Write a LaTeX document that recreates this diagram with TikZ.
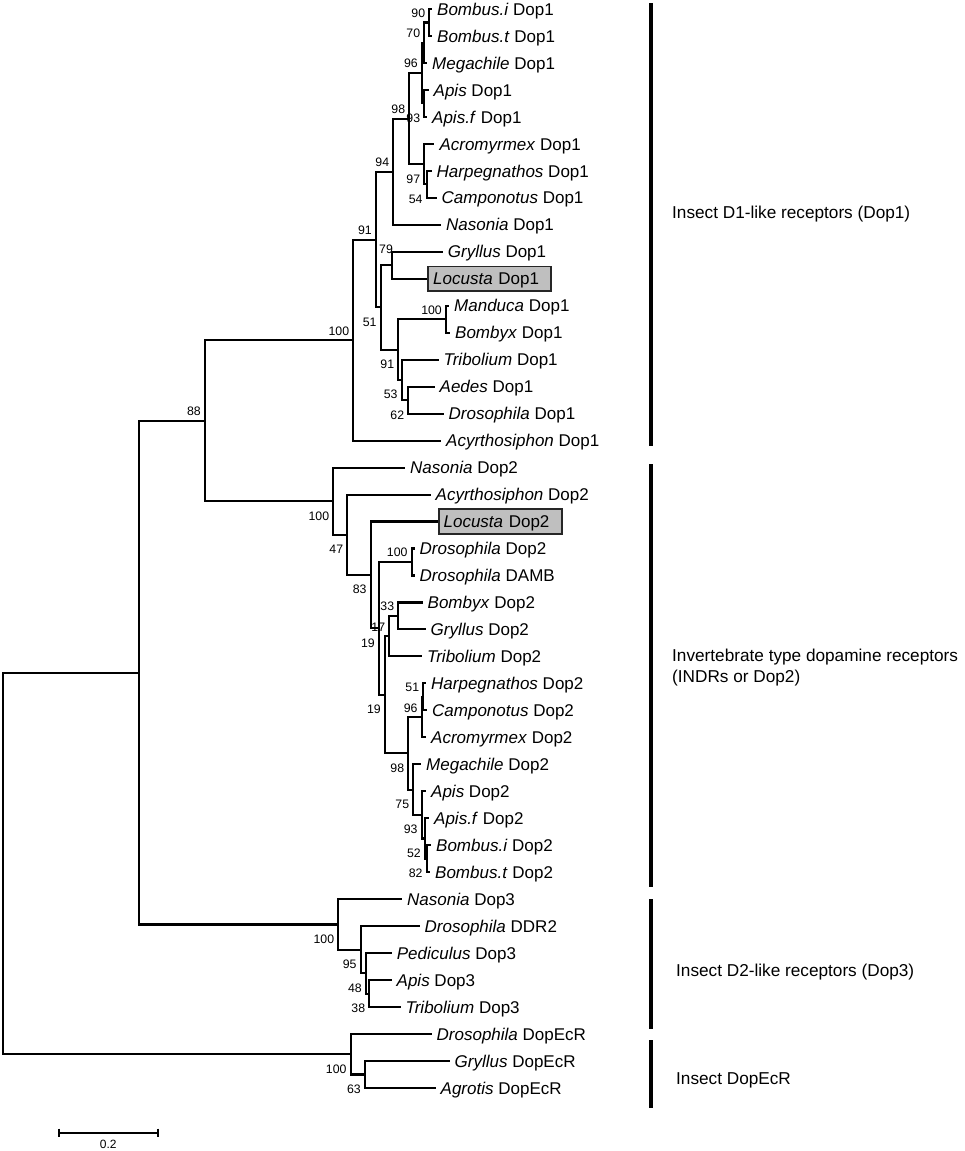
\documentclass[tikz,border=0pt]{standalone}
\usepackage{fontspec}
\setmainfont{Liberation Sans}
\newcommand{\mkleaf}[4]{\coordinate (#1) at (#2,#3); \node[lab,anchor=west] (#1t) at ([xshift=6pt]#1) {#4};}
\newcommand{\mkbox}[4]{\coordinate (#1) at (#2,#3); \node[lbox,anchor=west] (#1t) at (#1) {#4};}
\newcommand{\bsup}[3]{\node[bs,anchor=east] (#1) at ([shift={(-4pt,9.5pt)}]#2) {#3};}
\newcommand{\bsdn}[3]{\node[bs,anchor=east] (#1) at ([shift={(-4pt,-14.5pt)}]#2) {#3};}
\newcommand{\brn}[2]{\draw[br] (#1) |- (#2);}
\begin{document}
\begin{tikzpicture}[x=1pt,y=-1pt,
  br/.style={draw=black, line width=2.1pt, line cap=rect},
  lab/.style={inner sep=0pt, text height=12.2pt, text depth=0pt, font=\fontsize{17}{20}\selectfont},
  bs/.style={inner sep=0pt, text height=8.8pt, text depth=0pt, font=\fontsize{12.3}{14}\selectfont},
  lbox/.style={draw=black!85, line width=1.8pt, fill=black!25, minimum height=24.5pt, text width=113pt, inner xsep=5pt, inner ysep=0pt, text height=12.2pt, text depth=0pt, font=\fontsize{17}{20}\selectfont, align=left},
  grp/.style={inner sep=0pt, text height=12.3pt, text depth=0pt, font=\fontsize{17.2}{21}\selectfont, anchor=west},
  bar/.style={draw=black, line width=4.5pt}]
\useasboundingbox (0,0) rectangle (964,1151);
% ---------------- leaves ----------------
\mkleaf{L0}{431}{9}{\textit{Bombus.i} Dop1}
\mkleaf{L1}{431}{36}{\textit{Bombus.t} Dop1}
\mkleaf{L2}{426}{62.9}{\textit{Megachile} Dop1}
\mkleaf{L3}{427.5}{89.9}{\textit{Apis} Dop1}
\mkleaf{L4}{426}{116.9}{\textit{Apis.f} Dop1}
\mkleaf{L5}{433.3}{143.9}{\textit{Acromyrmex} Dop1}
\mkleaf{L6}{430.5}{170.9}{\textit{Harpegnathos} Dop1}
\mkleaf{L7}{435.5}{197.8}{\textit{Camponotus} Dop1}
\mkleaf{L8}{440}{224.8}{\textit{Nasonia} Dop1}
\mkleaf{L9}{441.7}{251.8}{\textit{Gryllus} Dop1}
\mkbox{L10}{427.3}{278.8}{\textit{Locusta} Dop1}
\mkleaf{L11}{448}{305.7}{\textit{Manduca} Dop1}
\mkleaf{L12}{449}{332.7}{\textit{Bombyx} Dop1}
\mkleaf{L13}{437.5}{359.7}{\textit{Tribolium} Dop1}
\mkleaf{L14}{433.5}{386.7}{\textit{Aedes} Dop1}
\mkleaf{L15}{442.5}{413.6}{\textit{Drosophila} Dop1}
\mkleaf{L16}{440}{440.6}{\textit{Acyrthosiphon} Dop1}
\mkleaf{L17}{404}{467.6}{\textit{Nasonia} Dop2}
\mkleaf{L18}{429.5}{494.6}{\textit{Acyrthosiphon} Dop2}
\mkbox{L19}{437.7}{521.5}{\textit{Locusta} Dop2}
\mkleaf{L20}{413.5}{548.5}{\textit{Drosophila} Dop2}
\mkleaf{L21}{413.5}{575.5}{\textit{Drosophila} DAMB}
\mkleaf{L22}{421.5}{602.5}{\textit{Bombyx} Dop2}
\mkleaf{L23}{424.5}{629.4}{\textit{Gryllus} Dop2}
\mkleaf{L24}{421}{656.4}{\textit{Tribolium} Dop2}
\mkleaf{L25}{425}{683.4}{\textit{Harpegnathos} Dop2}
\mkleaf{L26}{426}{710.4}{\textit{Camponotus} Dop2}
\mkleaf{L27}{425}{737.3}{\textit{Acromyrmex} Dop2}
\mkleaf{L28}{420}{764.3}{\textit{Megachile} Dop2}
\mkleaf{L29}{425}{791.3}{\textit{Apis} Dop2}
\mkleaf{L30}{428}{818.3}{\textit{Apis.f} Dop2}
\mkleaf{L31}{430}{845.2}{\textit{Bombus.i} Dop2}
\mkleaf{L32}{429}{872.2}{\textit{Bombus.t} Dop2}
\mkleaf{L33}{401}{899.2}{\textit{Nasonia} Dop3}
\mkleaf{L34}{418.5}{926.2}{\textit{Drosophila} DDR2}
\mkleaf{L35}{390.7}{953.1}{\textit{Pediculus} Dop3}
\mkleaf{L36}{390.5}{980.1}{\textit{Apis} Dop3}
\mkleaf{L37}{399.5}{1007.1}{\textit{Tribolium} Dop3}
\mkleaf{L38}{430.5}{1034.1}{\textit{Drosophila} DopEcR}
\mkleaf{L39}{448.5}{1061}{\textit{Gryllus} DopEcR}
\mkleaf{L40}{434.5}{1088}{\textit{Agrotis} DopEcR}
% ---------------- internal nodes ----------------
\coordinate (nbb1) at (429.3,22.5);
\coordinate (nbbm1) at (424.3,42.7);
\coordinate (naa1) at (424.3,103.4);
\coordinate (nbees1) at (422,73.05);
\coordinate (nhc1) at (426.7,184.35);
\coordinate (nants1) at (424.3,164.1);
\coordinate (nba1) at (409.3,118.6);
\coordinate (nhym1) at (393.3,171.7);
\coordinate (north1) at (392.3,265.3);
\coordinate (nmb1) at (446,319.2);
\coordinate (nad1) at (408.3,400.15);
\coordinate (ntad1) at (401.7,379.9);
\coordinate (nlep1) at (398.3,349.55);
\coordinate (nfo1) at (380.7,307.4);
\coordinate (nni1) at (376,239.55);
\coordinate (ndop1) at (353.3,340.1);
\coordinate (ndd2) at (411.7,562);
\coordinate (nbg2) at (398.3,615.95);
\coordinate (nA2) at (389.3,636.2);
\coordinate (nhc2) at (423.3,696.9);
\coordinate (nants2) at (421.7,717.1);
\coordinate (nbt2) at (426.7,858.7);
\coordinate (naf2) at (425,838.5);
\coordinate (nap2) at (421.7,814.9);
\coordinate (nbees2) at (413.3,789.6);
\coordinate (nhym2) at (408.3,753.35);
\coordinate (nB2) at (385,694.8);
\coordinate (nC2) at (379,628.4);
\coordinate (nD2) at (370.7,574.95);
\coordinate (nfs2) at (347.3,534.8);
\coordinate (ndop2) at (333.3,501.2);
\coordinate (nee) at (205,420.65);
\coordinate (nat3) at (369.3,993.6);
\coordinate (np3) at (366,973.4);
\coordinate (nnf3) at (360.7,949.8);
\coordinate (ndop3) at (338.3,924.5);
\coordinate (nin) at (139.3,672.6);
\coordinate (nsx) at (365,1074.5);
\coordinate (necr) at (350.7,1054.3);
\coordinate (root) at (3,863.45);
% ---------------- branches ----------------
\brn{nbb1}{L0} \brn{nbb1}{L1}
\brn{nbbm1}{nbb1} \brn{nbbm1}{L2}
\brn{naa1}{L3} \brn{naa1}{L4}
\brn{nbees1}{nbbm1} \brn{nbees1}{naa1}
\brn{nhc1}{L6} \brn{nhc1}{L7}
\brn{nants1}{L5} \brn{nants1}{nhc1}
\brn{nba1}{nbees1} \brn{nba1}{nants1}
\brn{nhym1}{nba1} \brn{nhym1}{L8}
\brn{north1}{L9} \brn{north1}{L10}
\brn{nmb1}{L11} \brn{nmb1}{L12}
\brn{nad1}{L14} \brn{nad1}{L15}
\brn{ntad1}{L13} \brn{ntad1}{nad1}
\brn{nlep1}{nmb1} \brn{nlep1}{ntad1}
\brn{nfo1}{north1} \brn{nfo1}{nlep1}
\brn{nni1}{nhym1} \brn{nni1}{nfo1}
\brn{ndop1}{nni1} \brn{ndop1}{L16}
\brn{ndd2}{L20} \brn{ndd2}{L21}
\brn{nbg2}{L22} \brn{nbg2}{L23}
\brn{nA2}{nbg2} \brn{nA2}{L24}
\brn{nhc2}{L25} \brn{nhc2}{L26}
\brn{nants2}{nhc2} \brn{nants2}{L27}
\brn{nbt2}{L31} \brn{nbt2}{L32}
\brn{naf2}{L30} \brn{naf2}{nbt2}
\brn{nap2}{L29} \brn{nap2}{naf2}
\brn{nbees2}{L28} \brn{nbees2}{nap2}
\brn{nhym2}{nants2} \brn{nhym2}{nbees2}
\brn{nB2}{nA2} \brn{nB2}{nhym2}
\brn{nC2}{ndd2} \brn{nC2}{nB2}
\brn{nD2}{L19} \brn{nD2}{nC2}
\brn{nfs2}{L18} \brn{nfs2}{nD2}
\brn{ndop2}{L17} \brn{ndop2}{nfs2}
\brn{nee}{ndop1} \brn{nee}{ndop2}
\brn{nat3}{L36} \brn{nat3}{L37}
\brn{np3}{L35} \brn{np3}{nat3}
\brn{nnf3}{L34} \brn{nnf3}{np3}
\brn{ndop3}{L33} \brn{ndop3}{nnf3}
\brn{nin}{nee} \brn{nin}{ndop3}
\brn{nsx}{L39} \brn{nsx}{L40}
\brn{necr}{L38} \brn{necr}{nsx}
\brn{root}{nin} \brn{root}{necr}
% redraw boxes on top
\node[lbox,anchor=west] at (L10) {\textit{Locusta} Dop1};
\node[lbox,anchor=west] at (L19) {\textit{Locusta} Dop2};
% ---------------- bootstrap values ----------------
\bsup{b90}{nbb1}{90}
\bsup{b70}{nbbm1}{70}
\bsup{b96a}{nbees1}{96}
\bsdn{b93a}{naa1}{93}
\bsup{b98a}{nba1}{98}
\bsdn{b97}{nants1}{97}
\bsdn{b54}{nhc1}{54}
\bsup{b94}{nhym1}{94}
\bsup{b91a}{nni1}{91}
\node[bs] (b79) at (386,249) {79};
\bsdn{b51a}{nfo1}{51}
\bsup{b100a}{nmb1}{100}
\bsdn{b91b}{nlep1}{91}
\bsdn{b53}{ntad1}{53}
\bsdn{b62}{nad1}{62}
\bsup{b100b}{ndop1}{100}
\bsup{b88}{nee}{88}
\bsdn{b100c}{ndop2}{100}
\bsdn{b47}{nfs2}{47}
\bsdn{b83}{nD2}{83}
\bsup{b100d}{ndd2}{100}
\bsup{b33}{nbg2}{33}
\bsup{b17}{nA2}{17}
\bsdn{b19a}{nC2}{19}
\bsdn{b19b}{nB2}{19}
\bsup{b51b}{nhc2}{51}
\bsup{b96b}{nants2}{96}
\bsdn{b98b}{nhym2}{98}
\bsdn{b75}{nbees2}{75}
\bsdn{b93b}{nap2}{93}
\bsdn{b52}{naf2}{52}
\bsdn{b82}{nbt2}{82}
\bsdn{b100e}{ndop3}{100}
\bsdn{b95}{nnf3}{95}
\bsdn{b48}{np3}{48}
\bsdn{b38}{nat3}{38}
\bsdn{b100f}{necr}{100}
\bsdn{b63}{nsx}{63}
% ---------------- group bars and labels ----------------
\coordinate (g1a) at (651,3); \coordinate (g1b) at (651,446);
\coordinate (g2a) at (651,464); \coordinate (g2b) at (651,887);
\coordinate (g3a) at (651,899); \coordinate (g3b) at (651,1029);
\coordinate (g4a) at (651,1040); \coordinate (g4b) at (651,1108);
\draw[bar] (g1a) -- (g1b);
\draw[bar] (g2a) -- (g2b);
\draw[bar] (g3a) -- (g3b);
\draw[bar] (g4a) -- (g4b);
\node[grp] (t1) at (672,212) {Insect D1-like receptors (Dop1)};
\node[grp] (t2a) at (672,655) {Invertebrate type dopamine receptors};
\node[grp] (t2b) at (672,676) {(INDRs or Dop2)};
\node[grp] (t3) at (676,970) {Insect D2-like receptors (Dop3)};
\node[grp] (t4) at (676,1078.5) {Insect DopEcR};
% ---------------- scale bar ----------------
\coordinate (sa) at (58.5,1132.7); \coordinate (sb) at (158.3,1132.7);
\draw[line width=2pt] (sa) -- (sb);
\draw[line width=2pt] ([yshift=4.2pt]sa) -- ([yshift=-4.2pt]sa);
\draw[line width=2pt] ([yshift=4.2pt]sb) -- ([yshift=-4.2pt]sb);
\node[bs, font=\fontsize{12}{14}\selectfont, text height=8.6pt] (sl) at (108.3,1144) {0.2};
\end{tikzpicture}
\end{document}
